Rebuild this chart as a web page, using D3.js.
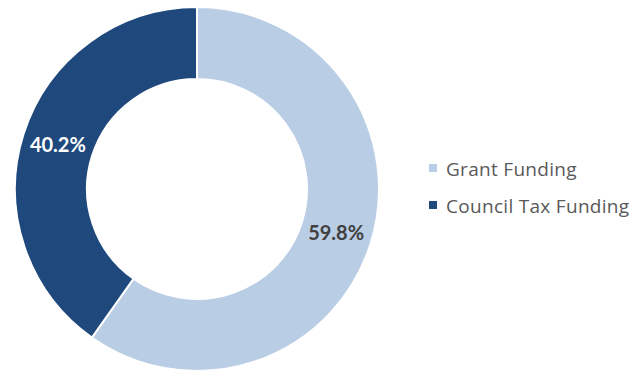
<!DOCTYPE html>
<html>
<head>
<meta charset="utf-8">
<script src="https://cdn.jsdelivr.net/npm/d3@7"></script>
<style>
  body { margin: 0; background: #fff; }
  svg { display: block; font-family: Lato, "Open Sans", sans-serif; }
</style>
</head>
<body>
<div class="chart"></div>
<script>
// funding split data
var categories = ["Grant Funding", "Council Tax Funding"];
var shares = [59.8, 40.2];
var colours = ["#b9cde5", "#1f497d"];
var labelColours = ["#404040", "#ffffff"];

var width = 636,
    height = 371,
    cx = 197,
    cy = 189,
    outerR = 182,
    innerR = 110;

var data = categories.map((c, i) => ({name: c, value: shares[i]}));

var svg = d3.select('.chart')
  .append("svg")
  .attr("width", width)
  .attr("height", height);

var g = svg.append("g")
  .attr("transform", `translate(${cx},${cy})`);

var pie = d3.pie().sort(null).value(d => d.value);
var arc = d3.arc().innerRadius(innerR).outerRadius(outerR);

var color = d3.scaleOrdinal().domain(categories).range(colours);

var slices = g.selectAll(".slice")
  .data(pie(data))
  .enter().append("g")
  .attr("class", "slice");

slices.append("path")
  .attr("d", arc)
  .style("fill", d => color(d.data.name))
  .style("stroke", "#fff")
  .style("stroke-width", 2);

// percentage labels at slice centroids
slices.append("text")
  .attr("transform", d => `translate(${arc.centroid(d)})`)
  .attr("text-anchor", "middle")
  .attr("dy", "0.36em")
  .style("font-size", "20px")
  .style("font-weight", "bold")
  .style("fill", (d, i) => labelColours[i])
  .text(d => d.data.value.toFixed(1) + "%");

// legend
var legend = svg.selectAll('.legend')
  .data(categories)
  .enter()
  .append('g')
  .attr('class', 'legend')
  .attr("transform", (d, i) => `translate(429,${164 + i * 37})`);

legend.append('rect')
  .attr('width', 8)
  .attr('height', 8)
  .style('fill', color);

legend.append('text')
  .attr('x', 17)
  .attr('y', 12)
  .style('font-family', '"Open Sans", sans-serif')
  .style('font-size', '19px')
  .style('letter-spacing', '0.3px')
  .style('fill', '#595959')
  .text(d => d);
</script>
</body>
</html>
